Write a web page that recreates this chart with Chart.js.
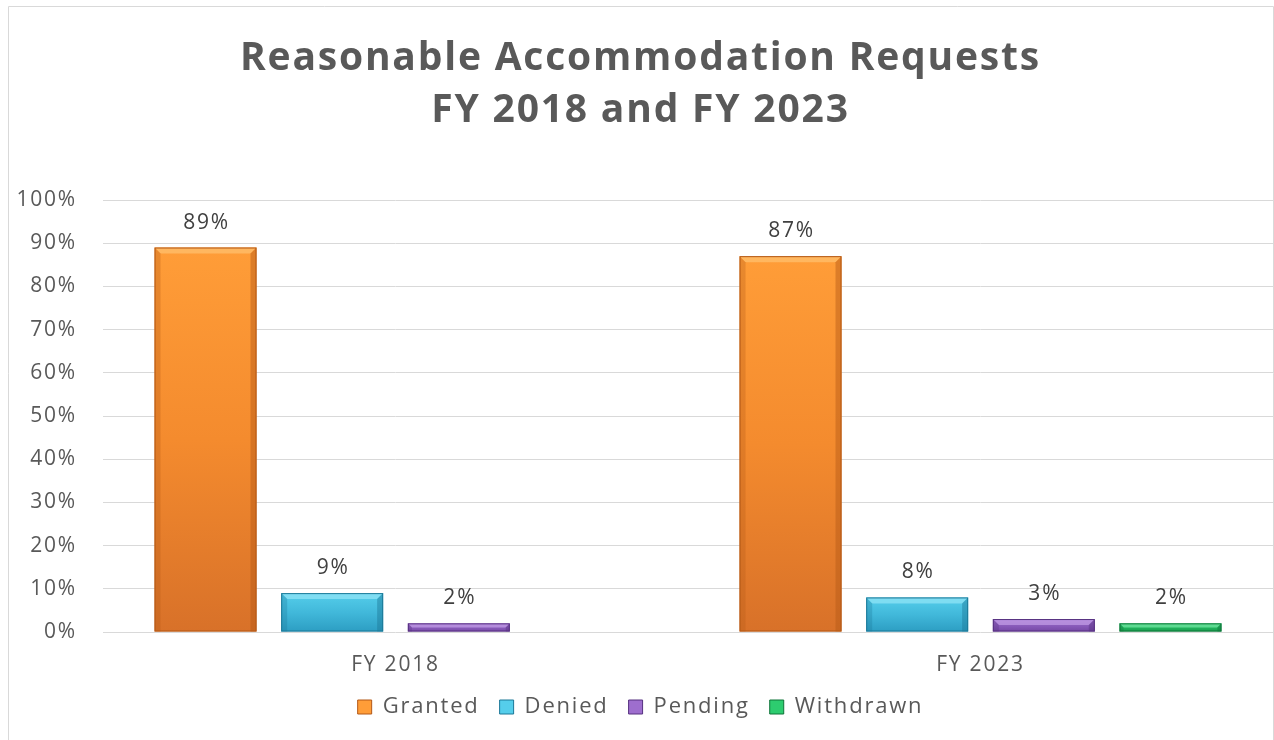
<!DOCTYPE html>
<html>
<head>
<meta charset="utf-8">
<script src="https://cdn.jsdelivr.net/npm/chart.js@4/dist/chart.umd.min.js"></script>
<style>
html,body{margin:0;padding:0;background:#fff;}
#wrap{width:1274px;height:740px;}
</style>
</head>
<body>
<div id="wrap"><canvas id="c" width="1274" height="740"></canvas></div>
<script>
const categories = ['FY 2018', 'FY 2023'];
const granted = [89, 87];
const denied = [9, 8];
const pending = [2, 3];
const withdrawn = [null, 2];
const seriesNames = ['Granted', 'Denied', 'Pending', 'Withdrawn'];
const titleLines = ['Reasonable Accommodation Requests', 'FY 2018 and FY 2023'];

const palettes = {
  Granted:   {top: '#FF9D38', mid: '#F48B2E', bottom: '#D87129', edge: '#B35817', light: '#FFC06E'},
  Denied:    {top: '#55CEEB', mid: '#41B8DA', bottom: '#2C9DC2', edge: '#1C7897', light: '#8FE3F6'},
  Pending:   {top: '#9E6ECE', mid: '#8A5CBB', bottom: '#7446A3', edge: '#563180', light: '#C09BE4'},
  Withdrawn: {top: '#2DCC6F', mid: '#22B45E', bottom: '#179A4C', edge: '#0E7439', light: '#70E4A0'}
};

const SPACING = '1.8px';

function gradFor(name) {
  return function(ctx) {
    const chart = ctx.chart;
    const p = palettes[name];
    const ys = chart.scales && chart.scales.y;
    if (!ys || ctx.raw === null || ctx.raw === undefined) return p.top;
    const top = ys.getPixelForValue(ctx.raw);
    const base = ys.getPixelForValue(0);
    if (!isFinite(top) || !isFinite(base) || base - top < 1) return p.top;
    const g = chart.ctx.createLinearGradient(0, top, 0, base);
    g.addColorStop(0, p.top);
    g.addColorStop(0.5, p.mid);
    g.addColorStop(1, p.bottom);
    return g;
  };
}

const spacing = {
  id: 'spacing',
  beforeInit(chart) { chart.ctx.letterSpacing = SPACING; },
  beforeUpdate(chart) { chart.ctx.letterSpacing = SPACING; },
  beforeLayout(chart) { chart.ctx.letterSpacing = SPACING; },
  beforeDraw(chart) { chart.ctx.letterSpacing = SPACING; }
};

const valueLabels = {
  id: 'valueLabels',
  afterDatasetsDraw(chart) {
    const ctx = chart.ctx;
    ctx.save();
    ctx.letterSpacing = SPACING;
    ctx.font = '21px "Open Sans"';
    ctx.fillStyle = '#404040';
    ctx.textAlign = 'center';
    ctx.textBaseline = 'middle';
    chart.data.datasets.forEach((ds, i) => {
      const meta = chart.getDatasetMeta(i);
      meta.data.forEach((el, j) => {
        const v = ds.data[j];
        if (v === null || v === undefined) return;
        ctx.fillText(v + '%', el.x + 1, el.y - 25);
      });
    });
    ctx.restore();
  }
};

const bevel = {
  id: 'bevel',
  afterDatasetsDraw(chart) {
    const ctx = chart.ctx;
    ctx.save();
    chart.data.datasets.forEach((ds, i) => {
      const meta = chart.getDatasetMeta(i);
      const p = palettes[ds.label];
      meta.data.forEach((el, j) => {
        const v = ds.data[j];
        if (v === null || v === undefined) return;
        const w = el.width, l = el.x - w / 2, r = el.x + w / 2;
        const t = el.y, b = el.base;
        const h = b - t;
        const d = Math.min(6, h / 2);
        ctx.fillStyle = p.light;
        ctx.globalAlpha = 0.75;
        ctx.beginPath();
        ctx.moveTo(l, t); ctx.lineTo(r, t); ctx.lineTo(r - d, t + d); ctx.lineTo(l + d, t + d); ctx.closePath();
        ctx.fill();
        ctx.fillStyle = p.edge;
        ctx.globalAlpha = 0.45;
        ctx.beginPath();
        ctx.moveTo(r, t); ctx.lineTo(r, b); ctx.lineTo(r - d, b); ctx.lineTo(r - d, t + d); ctx.closePath();
        ctx.fill();
        ctx.globalAlpha = 0.3;
        ctx.beginPath();
        ctx.moveTo(l, t); ctx.lineTo(l + d, t + d); ctx.lineTo(l + d, b); ctx.lineTo(l, b); ctx.closePath();
        ctx.fill();
        ctx.globalAlpha = 1;
        ctx.strokeStyle = p.edge;
        ctx.lineWidth = 1;
        ctx.strokeRect(l + 0.5, t + 0.5, w - 1, h - 1);
      });
    });
    ctx.restore();
  }
};

const frame = {
  id: 'frame',
  afterDraw(chart) {
    const ctx = chart.ctx;
    ctx.save();
    ctx.strokeStyle = '#d9d9d9';
    ctx.lineWidth = 1;
    ctx.beginPath();
    ctx.moveTo(8.5, 740); ctx.lineTo(8.5, 6.5); ctx.lineTo(1273.5, 6.5); ctx.lineTo(1273.5, 740);
    ctx.stroke();
    ctx.restore();
  }
};

const datasets = [
  {label: seriesNames[0], data: granted},
  {label: seriesNames[1], data: denied},
  {label: seriesNames[2], data: pending},
  {label: seriesNames[3], data: withdrawn}
].map(d => Object.assign(d, {
  backgroundColor: gradFor(d.label),
  borderColor: palettes[d.label].edge,
  borderWidth: 0,
  categoryPercentage: 0.866,
  barPercentage: 0.805
}));

new Chart(document.getElementById('c'), {
  type: 'bar',
  data: {labels: categories, datasets: datasets},
  options: {
    responsive: false,
    animation: false,
    layout: {padding: {left: 8, right: 1, top: 0, bottom: 12}},
    plugins: {
      title: {
        display: true,
        text: titleLines,
        color: '#595959',
        font: {family: '"Open Sans"', size: 39, weight: 'bold', lineHeight: 52 / 39},
        padding: {top: 33, bottom: 63}
      },
      legend: {
        position: 'bottom',
        labels: {
          color: '#595959',
          font: {family: '"Open Sans"', size: 22},
          boxWidth: 14,
          boxHeight: 14,
          padding: 20,
          generateLabels(chart) {
            return chart.data.datasets.map((ds, i) => ({
              text: ds.label,
              fillStyle: palettes[ds.label].top,
              strokeStyle: palettes[ds.label].edge,
              lineWidth: 1,
              fontColor: '#595959',
              hidden: false,
              datasetIndex: i
            }));
          }
        }
      },
      tooltip: {enabled: false}
    },
    scales: {
      x: {
        afterFit(scale) { scale.height = 44; },
        grid: {display: false, drawTicks: false},
        border: {display: false},
        ticks: {color: '#595959', font: {family: '"Open Sans"', size: 21}, padding: 20}
      },
      y: {
        min: 0, max: 100,
        afterFit(scale) { scale.width = 95; },
        grid: {color: '#d9d9d9', drawTicks: false},
        border: {display: false},
        ticks: {
          stepSize: 10,
          color: '#595959',
          font: {family: '"Open Sans"', size: 21},
          padding: 26,
          callback: v => v + '%'
        }
      }
    }
  },
  plugins: [spacing, valueLabels, bevel, frame]
});
</script>
</body>
</html>
